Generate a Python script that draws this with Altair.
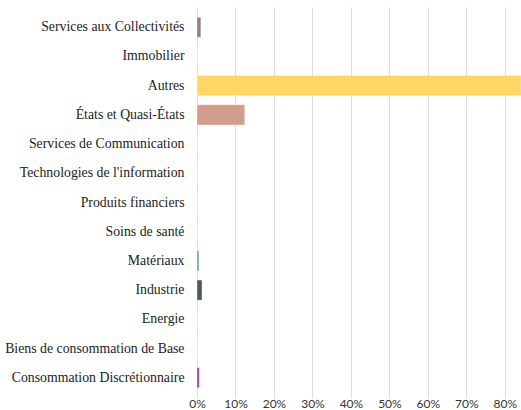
import altair as alt
import pandas as pd

categories = [
    "Services aux Collectivités",
    "Immobilier",
    "Autres",
    "États et Quasi-États",
    "Services de Communication",
    "Technologies de l'information",
    "Produits financiers",
    "Soins de santé",
    "Matériaux",
    "Industrie",
    "Energie",
    "Biens de consommation de Base",
    "Consommation Discrétionnaire",
]
values = [0.010, 0.0, 0.845, 0.124, 0.0, 0.0, 0.002, 0.0, 0.005, 0.013, 0.0, 0.0, 0.006]
colors = ["#8f7f8c", "#cccccc", "#fdd663", "#d29d8b", "#cccccc", "#cccccc", "#d7d7f2",
          "#cccccc", "#6a9e98", "#4b5b66", "#cccccc", "#cccccc", "#a63aa8"]
x_ticks = [0, 0.1, 0.2, 0.3, 0.4, 0.5, 0.6, 0.7, 0.8]

df = pd.DataFrame({"cat": categories, "val": values, "color": colors})

chart = alt.Chart(df).mark_bar(stroke="white", strokeWidth=0.6, strokeOpacity=0.6).encode(
    y=alt.Y("cat:N", sort=categories,
            scale=alt.Scale(paddingInner=0.31, paddingOuter=0.35),
            axis=alt.Axis(title=None, domain=False, ticks=False, grid=False,
                          labelFont="Liberation Serif", labelFontSize=13.8,
                          labelColor="#222222", labelPadding=13, labelLimit=300)),
    x=alt.X("val:Q", scale=alt.Scale(domain=[0, 0.842], nice=False, clamp=True),
            axis=alt.Axis(title=None, domain=False, ticks=False, values=x_ticks,
                          format=".0%", grid=True, gridColor="#dddddd", gridWidth=1,
                          labelFont="Lato", labelFontSize=12, labelColor="#333333",
                          labelPadding=0, labelFlush=False)),
    color=alt.Color("color:N", scale=None),
).properties(
    width=324, height=391,
    autosize=alt.AutoSizeParams(type="none"),
    padding={"left": 197, "top": 7, "right": 0, "bottom": 12},
).configure_view(stroke=None)

chart.save("out.html", embed_options={"renderer": "svg", "actions": False})
